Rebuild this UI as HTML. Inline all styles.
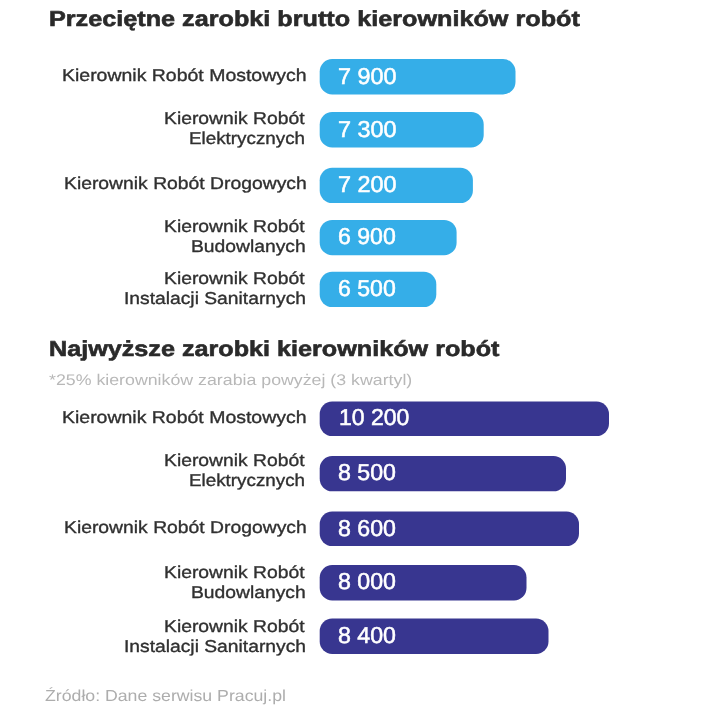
<!DOCTYPE html>
<html><head><meta charset="utf-8">
<style>
html,body{margin:0;padding:0;background:#fff;}
body{width:720px;height:709px;position:relative;overflow:hidden;font-family:"Liberation Sans",sans-serif;}
svg{position:absolute;left:0;top:0;}
.t{position:absolute;white-space:nowrap;line-height:1;transform-origin:0 0;text-rendering:geometricPrecision;}
#txt{position:absolute;left:0;top:0;width:720px;height:709px;will-change:transform;}
</style></head><body>
<svg width="720" height="709" viewBox="0 0 720 709">
<rect x="319.7" y="59.1" width="195.8" height="35.3" rx="12.5" ry="12.5" fill="#35aee8"/>
<rect x="319.7" y="112.1" width="164.0" height="35.3" rx="12.5" ry="12.5" fill="#35aee8"/>
<rect x="319.7" y="167.8" width="153.2" height="35.3" rx="12.5" ry="12.5" fill="#35aee8"/>
<rect x="319.7" y="219.9" width="136.9" height="35.3" rx="12.5" ry="12.5" fill="#35aee8"/>
<rect x="319.7" y="271.8" width="116.6" height="35.3" rx="12.5" ry="12.5" fill="#35aee8"/>
<rect x="319.7" y="401.5" width="289.3" height="34.6" rx="12.5" ry="12.5" fill="#383690"/>
<rect x="319.7" y="456.0" width="246.3" height="35.3" rx="12.5" ry="12.5" fill="#383690"/>
<rect x="319.7" y="511.6" width="259.3" height="34.5" rx="12.5" ry="12.5" fill="#383690"/>
<rect x="319.7" y="565.1" width="206.8" height="35.3" rx="12.5" ry="12.5" fill="#383690"/>
<rect x="319.7" y="618.6" width="228.8" height="35.3" rx="12.5" ry="12.5" fill="#383690"/>
</svg>
<div id="txt">
<div class="t" id="h1" style="left:49.42px;top:8.00px;font-size:21.6px;font-weight:bold;color:#2a2a2a;-webkit-text-stroke:0.6px #2a2a2a;transform:scaleX(1.1674)">Przeciętne zarobki brutto kierowników robót</div>
<div class="t" id="h2" style="left:49.42px;top:338.00px;font-size:21.6px;font-weight:bold;color:#2a2a2a;-webkit-text-stroke:0.6px #2a2a2a;transform:scaleX(1.1658)">Najwyższe zarobki kierowników robót</div>
<div class="t" id="sub" style="left:49.37px;top:373.00px;font-size:15.4px;font-weight:normal;color:#b8b8b8;transform:scaleX(1.1541)">*25% kierowników zarabia powyżej (3 kwartyl)</div>
<div class="t" id="l1" style="left:62.24px;top:67.00px;font-size:17.2px;font-weight:normal;color:#303030;-webkit-text-stroke:0.35px #303030;transform:scaleX(1.1327)">Kierownik Robót Mostowych</div>
<div class="t" id="l2a" style="left:163.81px;top:110.00px;font-size:17.2px;font-weight:normal;color:#303030;-webkit-text-stroke:0.35px #303030;transform:scaleX(1.1232)">Kierownik Robót</div>
<div class="t" id="l2b" style="left:188.60px;top:130.00px;font-size:17.2px;font-weight:normal;color:#303030;-webkit-text-stroke:0.35px #303030;transform:scaleX(1.0943)">Elektrycznych</div>
<div class="t" id="l3" style="left:63.50px;top:175.00px;font-size:17.2px;font-weight:normal;color:#303030;-webkit-text-stroke:0.35px #303030;transform:scaleX(1.1243)">Kierownik Robót Drogowych</div>
<div class="t" id="l4a" style="left:163.81px;top:218.00px;font-size:17.2px;font-weight:normal;color:#303030;-webkit-text-stroke:0.35px #303030;transform:scaleX(1.1232)">Kierownik Robót</div>
<div class="t" id="l4b" style="left:190.94px;top:238.00px;font-size:17.2px;font-weight:normal;color:#303030;-webkit-text-stroke:0.35px #303030;transform:scaleX(1.1220)">Budowlanych</div>
<div class="t" id="l5a" style="left:163.81px;top:270.00px;font-size:17.2px;font-weight:normal;color:#303030;-webkit-text-stroke:0.35px #303030;transform:scaleX(1.1232)">Kierownik Robót</div>
<div class="t" id="l5b" style="left:123.50px;top:290.00px;font-size:17.2px;font-weight:normal;color:#303030;-webkit-text-stroke:0.35px #303030;transform:scaleX(1.1205)">Instalacji Sanitarnych</div>
<div class="t" id="l6" style="left:62.24px;top:409.00px;font-size:17.2px;font-weight:normal;color:#303030;-webkit-text-stroke:0.35px #303030;transform:scaleX(1.1327)">Kierownik Robót Mostowych</div>
<div class="t" id="l7a" style="left:163.81px;top:452.00px;font-size:17.2px;font-weight:normal;color:#303030;-webkit-text-stroke:0.35px #303030;transform:scaleX(1.1232)">Kierownik Robót</div>
<div class="t" id="l7b" style="left:188.60px;top:472.00px;font-size:17.2px;font-weight:normal;color:#303030;-webkit-text-stroke:0.35px #303030;transform:scaleX(1.0943)">Elektrycznych</div>
<div class="t" id="l8" style="left:63.50px;top:519.00px;font-size:17.2px;font-weight:normal;color:#303030;-webkit-text-stroke:0.35px #303030;transform:scaleX(1.1243)">Kierownik Robót Drogowych</div>
<div class="t" id="l9a" style="left:163.81px;top:564.00px;font-size:17.2px;font-weight:normal;color:#303030;-webkit-text-stroke:0.35px #303030;transform:scaleX(1.1232)">Kierownik Robót</div>
<div class="t" id="l9b" style="left:190.94px;top:584.00px;font-size:17.2px;font-weight:normal;color:#303030;-webkit-text-stroke:0.35px #303030;transform:scaleX(1.1220)">Budowlanych</div>
<div class="t" id="l10a" style="left:163.81px;top:618.00px;font-size:17.2px;font-weight:normal;color:#303030;-webkit-text-stroke:0.35px #303030;transform:scaleX(1.1232)">Kierownik Robót</div>
<div class="t" id="l10b" style="left:123.50px;top:638.00px;font-size:17.2px;font-weight:normal;color:#303030;-webkit-text-stroke:0.35px #303030;transform:scaleX(1.1205)">Instalacji Sanitarnych</div>
<div class="t" id="f" style="left:45.38px;top:689.00px;font-size:16px;font-weight:normal;color:#adadad;transform:scaleX(1.1060)">Źródło: Dane serwisu Pracuj.pl</div>
<div class="t" id="b0" style="left:337.79px;top:65.00px;font-size:23.0px;font-weight:normal;color:#ffffff;-webkit-text-stroke:0.55px #ffffff;transform:scaleX(1.0179)">7 900</div>
<div class="t" id="b1" style="left:337.79px;top:118.00px;font-size:23.0px;font-weight:normal;color:#ffffff;-webkit-text-stroke:0.55px #ffffff;transform:scaleX(1.0179)">7 300</div>
<div class="t" id="b2" style="left:337.79px;top:173.00px;font-size:23.0px;font-weight:normal;color:#ffffff;-webkit-text-stroke:0.55px #ffffff;transform:scaleX(1.0179)">7 200</div>
<div class="t" id="b3" style="left:338.00px;top:225.00px;font-size:23.0px;font-weight:normal;color:#ffffff;-webkit-text-stroke:0.55px #ffffff;transform:scaleX(1.0036)">6 900</div>
<div class="t" id="b4" style="left:338.00px;top:277.00px;font-size:23.0px;font-weight:normal;color:#ffffff;-webkit-text-stroke:0.55px #ffffff;transform:scaleX(1.0036)">6 500</div>
<div class="t" id="b5" style="left:339.00px;top:406.00px;font-size:23.0px;font-weight:normal;color:#ffffff;-webkit-text-stroke:0.55px #ffffff;transform:scaleX(1.0001)">10 200</div>
<div class="t" id="b6" style="left:337.69px;top:461.00px;font-size:23.0px;font-weight:normal;color:#ffffff;-webkit-text-stroke:0.55px #ffffff;transform:scaleX(1.0072)">8 500</div>
<div class="t" id="b7" style="left:337.69px;top:517.00px;font-size:23.0px;font-weight:normal;color:#ffffff;-webkit-text-stroke:0.55px #ffffff;transform:scaleX(1.0072)">8 600</div>
<div class="t" id="b8" style="left:337.69px;top:570.00px;font-size:23.0px;font-weight:normal;color:#ffffff;-webkit-text-stroke:0.55px #ffffff;transform:scaleX(1.0072)">8 000</div>
<div class="t" id="b9" style="left:337.69px;top:624.00px;font-size:23.0px;font-weight:normal;color:#ffffff;-webkit-text-stroke:0.55px #ffffff;transform:scaleX(1.0072)">8 400</div>
</div>
</body></html>
